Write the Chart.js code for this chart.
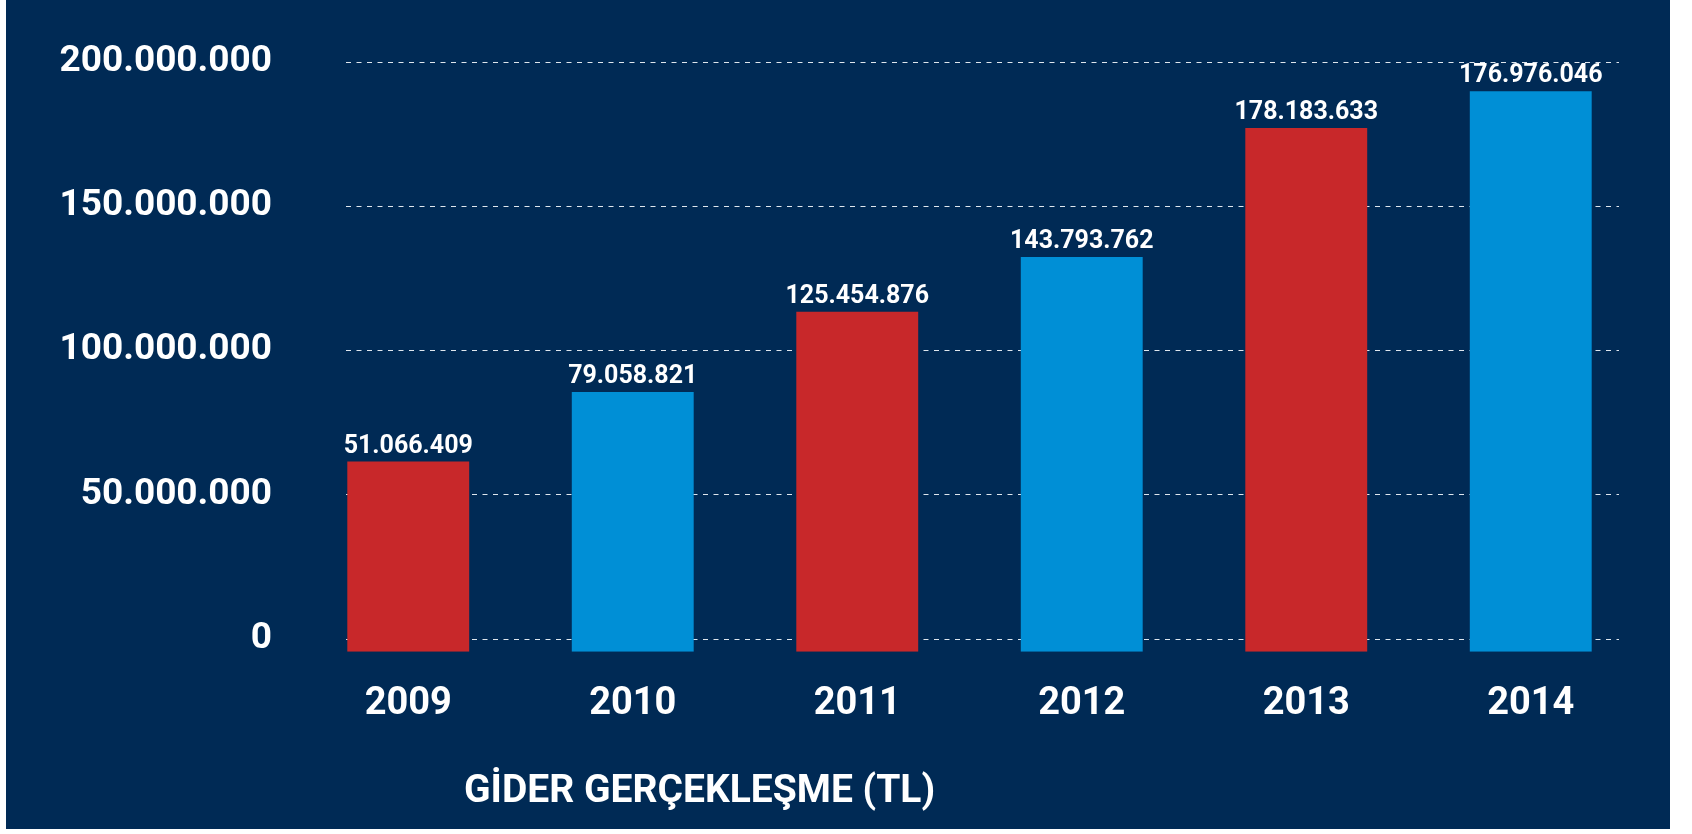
<!DOCTYPE html>
<html>
<head>
<meta charset="utf-8">
<script src="https://cdn.jsdelivr.net/npm/chart.js@4.4.0/dist/chart.umd.min.js"></script>
<style>
  body { margin: 0; background: #fff; }
  #box { position: absolute; left: 6px; top: 0; width: 1664px; height: 829px; background: #002a55; }
</style>
</head>
<body>
<div id="box"><canvas id="myChart" width="1664" height="829"></canvas></div>
<script>
// years on the x axis
const years = ['2009', '2010', '2011', '2012', '2013', '2014']
// bar heights as drawn in the picture (TL)
const barHeights = [61400000, 85500000, 113300000, 132300000, 177000000, 189700000]
// value labels printed above the bars
const barLabels = ['51.066.409', '79.058.821', '125.454.876', '143.793.762', '178.183.633', '176.976.046']
const barColors = ['#c8282a', '#008fd6', '#c8282a', '#008fd6', '#c8282a', '#008fd6']
const yTicks = [0, 50000000, 100000000, 150000000, 200000000]
const yMin = -4470000   // bars start a little below the 0 line
const yMax = 200000000
const chartTitle = 'GİDER GERÇEKLEŞME (TL)'

const FONT = 'Roboto, "Noto Sans", sans-serif'

function fmt(v) {
    return String(v).replace(/\B(?=(\d{3})+(?!\d))/g, '.')
}

// dashed grid lines, drawn behind the bars
const dashedGrid = {
    id: 'dashedGrid',
    beforeDatasetsDraw(chart) {
        const ctx = chart.ctx
        const y = chart.scales.y
        const area = chart.chartArea
        ctx.save()
        ctx.strokeStyle = '#dfe6ee'
        ctx.lineWidth = 1
        ctx.setLineDash([5, 5.5])
        yTicks.forEach((t) => {
            const py = Math.round(y.getPixelForValue(t)) + 0.5
            ctx.beginPath()
            ctx.moveTo(area.left + 50, py)
            ctx.lineTo(area.right - 24, py)
            ctx.stroke()
        })
        ctx.restore()
    }
}

// number above each bar + the caption under the chart
const barText = {
    id: 'barText',
    afterDatasetsDraw(chart) {
        const ctx = chart.ctx
        ctx.save()
        ctx.fillStyle = '#ffffff'
        ctx.font = 'bold 25px ' + FONT
        ctx.textAlign = 'center'
        ctx.textBaseline = 'alphabetic'
        chart.getDatasetMeta(0).data.forEach((bar, i) => {
            ctx.fillText(barLabels[i], bar.x, bar.y - 9)
        })
        ctx.font = 'bold 39px ' + FONT
        ctx.textAlign = 'left'
        ctx.fillText(chartTitle, 458, 802)
        ctx.restore()
    }
}

const ctx = document.getElementById('myChart')

const myChart = new Chart(ctx, {
    type: 'bar',
    data: {
        labels: years,
        datasets: [{
            label: 'Gider',
            data: barHeights.map(v => [yMin, v]),
            backgroundColor: barColors,
            borderWidth: 0,
            categoryPercentage: 1,
            barPercentage: 0.543
        }]
    },
    options: {
        responsive: false,
        animation: false,
        layout: {
            padding: { top: 61.5, right: 27, bottom: 0, left: 0 }
        },
        plugins: {
            legend: { display: false },
            tooltip: { enabled: false }
        },
        scales: {
            x: {
                grid: { display: false, drawTicks: false },
                border: { display: false },
                ticks: {
                    color: '#ffffff',
                    padding: 30,
                    font: { family: FONT, size: 38, weight: 'bold' }
                },
                afterFit(scale) { scale.height = 177.3 }
            },
            y: {
                min: yMin,
                max: yMax,
                grid: { display: false, drawTicks: false },
                border: { display: false },
                afterBuildTicks(scale) { scale.ticks = yTicks.map(v => ({ value: v })) },
                ticks: {
                    color: '#ffffff',
                    padding: 24,
                    font: { family: FONT, size: 37, weight: 'bold' },
                    callback: (v) => fmt(v)
                },
                afterFit(scale) { scale.width = 290 }
            }
        }
    },
    plugins: [dashedGrid, barText]
})
</script>
</body>
</html>
